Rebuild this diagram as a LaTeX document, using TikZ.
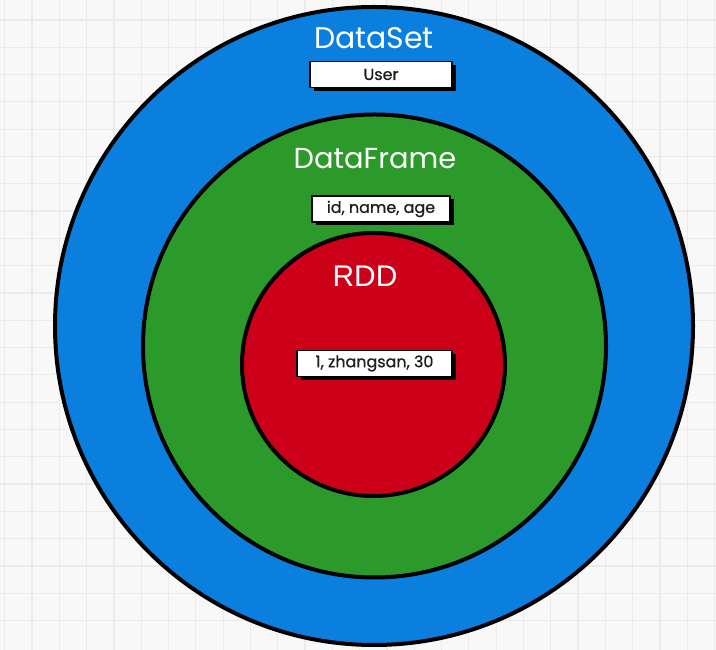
\documentclass[tikz,border=0pt]{standalone}
\usepackage{fontspec}
\setmainfont{Poppins}
\newfontfamily\rddfont{Liberation Sans}
\newfontfamily\boxfont[FakeBold=0.8]{Poppins}
\usetikzlibrary{shadows}

\definecolor{gridbg}{HTML}{F8F8F8}
\definecolor{gridline}{HTML}{EBEBEB}
\definecolor{dsblue}{HTML}{0A7FDD}
\definecolor{dfgreen}{HTML}{2C9A2A}
\definecolor{rddred}{HTML}{CC0018}
\definecolor{boxtext}{HTML}{1E1E1E}

\tikzset{
  ring/.style={circle,draw=black,line width=4bp,inner sep=0pt},
  ringlabel/.style={text=white,inner sep=0pt},
  fieldbox/.style={draw=black,line width=1.6bp,fill=white,text=boxtext,
    font=\boxfont\fontsize{16}{18}\selectfont,inner sep=0pt,minimum height=26bp,
    drop shadow={shadow xshift=3.5bp,shadow yshift=-3.5bp,fill=black,opacity=1}},
}

\begin{document}
\begin{tikzpicture}[line join=bevel,]
%%
\useasboundingbox (0bp,0bp) rectangle (716bp,650bp);
\fill [gridbg] (0bp,0bp) rectangle (716bp,650bp);
\foreach \gx in {0,...,26}
  \draw [gridline,line width=1.2bp] (4.7bp+\gx*27.3bp,0bp) -- (4.7bp+\gx*27.3bp,650bp);
\foreach \gy in {0,...,23}
  \draw [gridline,line width=1.2bp] (0bp,657.3bp-\gy*27.3bp) -- (716bp,657.3bp-\gy*27.3bp);
%
\node (ring_dataset) at (374bp,324bp) [ring,fill=dsblue,minimum size=638bp] {};
  \node (ring_dataframe) at (374.5bp,304bp) [ring,fill=dfgreen,minimum size=463bp] {};
  \node (ring_rdd) at (373.5bp,285.5bp) [ring,fill=rddred,minimum size=263bp] {};
%
\node (label_dataset) at (374bp,612bp) [ringlabel,font=\fontsize{30}{32}\selectfont] {DataSet};
  \node (label_dataframe) at (375bp,491bp) [ringlabel,font=\fontsize{29}{31}\selectfont] {DataFrame};
  \node (label_rdd) at (365bp,374bp) [ringlabel,font=\rddfont\fontsize{30}{32}\selectfont] {RDD};
%
\node (box_user) at (381bp,575.5bp) [fieldbox,minimum width=142bp] {User};
  \node (box_schema) at (381bp,441bp) [fieldbox,minimum width=138bp] {id, name, age};
  \node (box_row) at (374.5bp,286.5bp) [fieldbox,minimum width=155bp] {1, zhangsan, 30};
%
\end{tikzpicture}
\end{document}
